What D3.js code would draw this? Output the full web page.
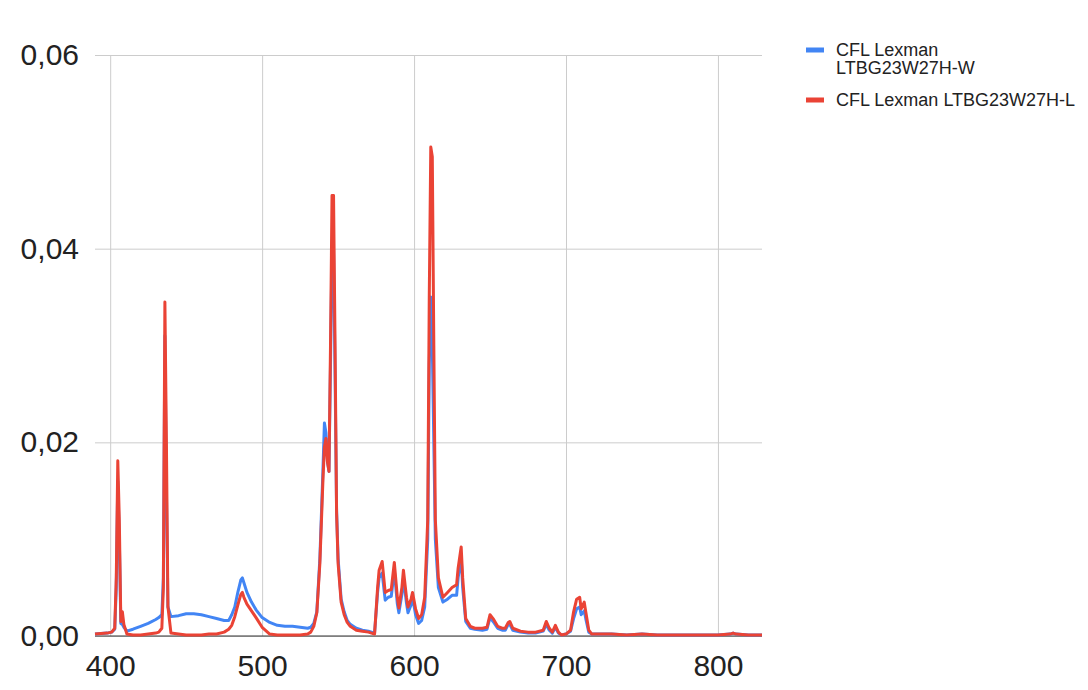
<!DOCTYPE html>
<html>
<head>
<meta charset="utf-8">
<script src="https://cdn.jsdelivr.net/npm/d3@7"></script>
<style>
  body { margin: 0; background: #fff; }
  svg { display: block; font-family: Arial, "Liberation Sans", sans-serif; }
</style>
</head>
<body>
<svg id="chart" width="1088" height="690"></svg>
<script>
// wavelength (nm)
const wavelengths = [390, 398, 401, 403, 404, 405, 406, 407, 408, 409, 411, 415, 420, 425, 430, 432, 434, 435, 436, 437,
  438, 440, 445, 450, 455, 460, 465, 470, 475, 478, 480, 482, 484, 486, 487, 488, 490, 493, 496, 500,
  505, 510, 515, 520, 525, 530, 532, 534, 536, 538, 540, 541, 542, 543, 544, 545, 546, 547, 548, 549,
  550, 552, 554, 556, 558, 562, 566, 570, 574, 576, 577, 579, 581, 583, 585, 587, 589, 590, 592, 593,
  595, 596, 598, 599, 601, 603, 605, 607, 609, 610, 611, 612, 613, 614, 616, 619, 622, 625, 628, 629,
  631, 632, 634, 637, 640, 645, 648, 650, 652, 655, 658, 660, 662, 663, 665, 670, 675, 680, 685, 687,
  689, 691, 693, 695, 697, 700, 703, 705, 707, 709, 710, 712, 713, 715, 717, 720, 730, 740, 750, 760,
  770, 780, 790, 800, 808, 810, 812, 820, 829];

const seriesW = [0.0002, 0.0003, 0.0004, 0.0007, 0.005, 0.016, 0.01, 0.0013, 0.0012, 0.0009, 0.0005, 0.0007, 0.001, 0.0013, 0.0017, 0.0019, 0.0022, 0.006, 0.031, 0.015,
  0.003, 0.002, 0.0021, 0.0023, 0.0023, 0.0022, 0.002, 0.0018, 0.0016, 0.0016, 0.0022, 0.003, 0.0045, 0.0058, 0.006, 0.0055, 0.0045, 0.0035, 0.0027, 0.0019,
  0.0014, 0.0011, 0.001, 0.001, 0.0009, 0.0008, 0.0009, 0.0013, 0.0025, 0.008, 0.017, 0.022, 0.021, 0.018, 0.017, 0.028, 0.04, 0.04, 0.027, 0.013,
  0.008, 0.0038, 0.0025, 0.0016, 0.0012, 0.0008, 0.0006, 0.0005, 0.0003, 0.0045, 0.006, 0.0065, 0.0037, 0.004, 0.0041, 0.0068, 0.0033, 0.0024, 0.0043, 0.006,
  0.0034, 0.0024, 0.0032, 0.004, 0.0022, 0.0013, 0.0016, 0.003, 0.01, 0.028, 0.035, 0.03, 0.02, 0.01, 0.005, 0.0035, 0.0038, 0.0042, 0.0042, 0.006,
  0.0082, 0.005, 0.0015, 0.0008, 0.0007, 0.0006, 0.0007, 0.0019, 0.0015, 0.0008, 0.0006, 0.0006, 0.0012, 0.0012, 0.0006, 0.0004, 0.0003, 0.0003, 0.0005, 0.0012,
  0.0006, 0.0003, 0.0009, 0.0003, 0.0001, 0.0002, 0.0005, 0.0018, 0.0028, 0.003, 0.0022, 0.0026, 0.0018, 0.0004, 0.0002, 0.0002, 0.0002, 0.0001, 0.0002, 0.0001,
  0.0001, 0.0001, 0.0001, 0.0001, 0.0002, 0.0003, 0.0002, 0.0001, 0.0001];

const seriesL = [0.0002, 0.0003, 0.0004, 0.0008, 0.006, 0.0181, 0.012, 0.0015, 0.0025, 0.0012, 0.0002, 0.0001, 0.0001, 0.0002, 0.0003, 0.0004, 0.0008, 0.005, 0.0345, 0.02,
  0.003, 0.0003, 0.0002, 0.0001, 0.0001, 0.0001, 0.0002, 0.0002, 0.0004, 0.0007, 0.0011, 0.002, 0.0032, 0.0043, 0.0045, 0.004, 0.0033, 0.0026, 0.0019, 0.0009,
  0.0002, 0.0001, 0.0001, 0.0001, 0.0001, 0.0002, 0.0004, 0.001, 0.0024, 0.0075, 0.016, 0.0195, 0.0204, 0.018, 0.017, 0.03, 0.0455, 0.0455, 0.03, 0.0127,
  0.0075, 0.0035, 0.0022, 0.0014, 0.001, 0.0006, 0.0005, 0.0004, 0.0002, 0.005, 0.0068, 0.0077, 0.0045, 0.0047, 0.0048, 0.0076, 0.004, 0.0029, 0.005, 0.0068,
  0.004, 0.003, 0.0038, 0.0045, 0.0028, 0.0018, 0.0022, 0.004, 0.012, 0.035, 0.0505, 0.0495, 0.03, 0.012, 0.006, 0.004, 0.0045, 0.005, 0.0053, 0.007,
  0.0092, 0.006, 0.0018, 0.001, 0.0008, 0.0008, 0.0009, 0.0022, 0.0018, 0.001, 0.0008, 0.0008, 0.0014, 0.0015, 0.0008, 0.0005, 0.0004, 0.0004, 0.0006, 0.0015,
  0.0008, 0.0004, 0.0011, 0.0004, 0.0001, 0.0002, 0.0006, 0.0025, 0.0038, 0.004, 0.0028, 0.0035, 0.0025, 0.0006, 0.0002, 0.0002, 0.0002, 0.0001, 0.0002, 0.0001,
  0.0001, 0.0001, 0.0001, 0.0001, 0.0002, 0.0003, 0.0002, 0.0001, 0.0001];

const seriesNames = ["CFL Lexman LTBG23W27H-W", "CFL Lexman LTBG23W27H-L"];
const seriesColors = ["#4285f4", "#ea4335"];

const xTicks = [400, 500, 600, 700, 800];
const yTicks = [0, 0.02, 0.04, 0.06];
const yTickLabels = ["0,00", "0,02", "0,04", "0,06"];

const svg = d3.select("#chart");
const plotLeft = 95, plotRight = 762, plotTop = 55, plotBottom = 636;

const x = d3.scaleLinear().domain([390, 829]).range([plotLeft, plotRight]);
const y = d3.scaleLinear().domain([0, 0.06]).range([plotBottom, plotTop]);

// y axis + horizontal grid
const yAxis = svg.append("g")
    .attr("transform", "translate(" + plotLeft + ",0)")
    .call(d3.axisLeft(y).tickValues(yTicks).tickSize(-(plotRight - plotLeft)).tickPadding(16)
        .tickFormat((d, i) => yTickLabels[i]));
yAxis.select(".domain").remove();
yAxis.selectAll("line").attr("stroke", "#cccccc");
yAxis.selectAll("text").attr("font-size", 30).attr("fill", "#222");
yAxis.attr("font-family", null);

// x axis + vertical grid
const xAxis = svg.append("g")
    .attr("transform", "translate(0," + plotBottom + ")")
    .call(d3.axisBottom(x).tickValues(xTicks).tickSize(-(plotBottom - plotTop)).tickPadding(19));
xAxis.select(".domain").remove();
xAxis.selectAll("line").attr("stroke", "#cccccc");
xAxis.selectAll("text").attr("font-size", 30).attr("fill", "#222");
xAxis.attr("font-family", null);

// baseline
svg.append("line")
    .attr("x1", plotLeft).attr("x2", plotRight)
    .attr("y1", y(0)).attr("y2", y(0))
    .attr("stroke", "#333").attr("stroke-width", 1);

const line = d3.line()
    .x(d => x(d[0]))
    .y(d => y(d[1]));

[seriesW, seriesL].forEach((vals, i) => {
    const pts = wavelengths.map((w, j) => [w, vals[j]]);
    svg.append("path")
        .datum(pts)
        .attr("d", line)
        .attr("fill", "none")
        .attr("stroke", seriesColors[i])
        .attr("stroke-width", 3)
        .attr("stroke-linejoin", "round");
});

// legend
const legend = svg.append("g").attr("font-size", 18).attr("fill", "#222");
const legendLines = [["CFL Lexman", "LTBG23W27H-W"], ["CFL Lexman LTBG23W27H-L"]];
const legendY = [50, 100];
legendLines.forEach((lines, i) => {
    legend.append("rect")
        .attr("x", 806).attr("y", legendY[i] - 2.5)
        .attr("width", 18).attr("height", 5)
        .attr("fill", seriesColors[i]);
    const t = legend.append("text").attr("x", 836).attr("y", legendY[i] + 6);
    lines.forEach((s, k) => {
        t.append("tspan").attr("x", 836).attr("dy", k === 0 ? 0 : 18).text(s);
    });
});
</script>
</body>
</html>
